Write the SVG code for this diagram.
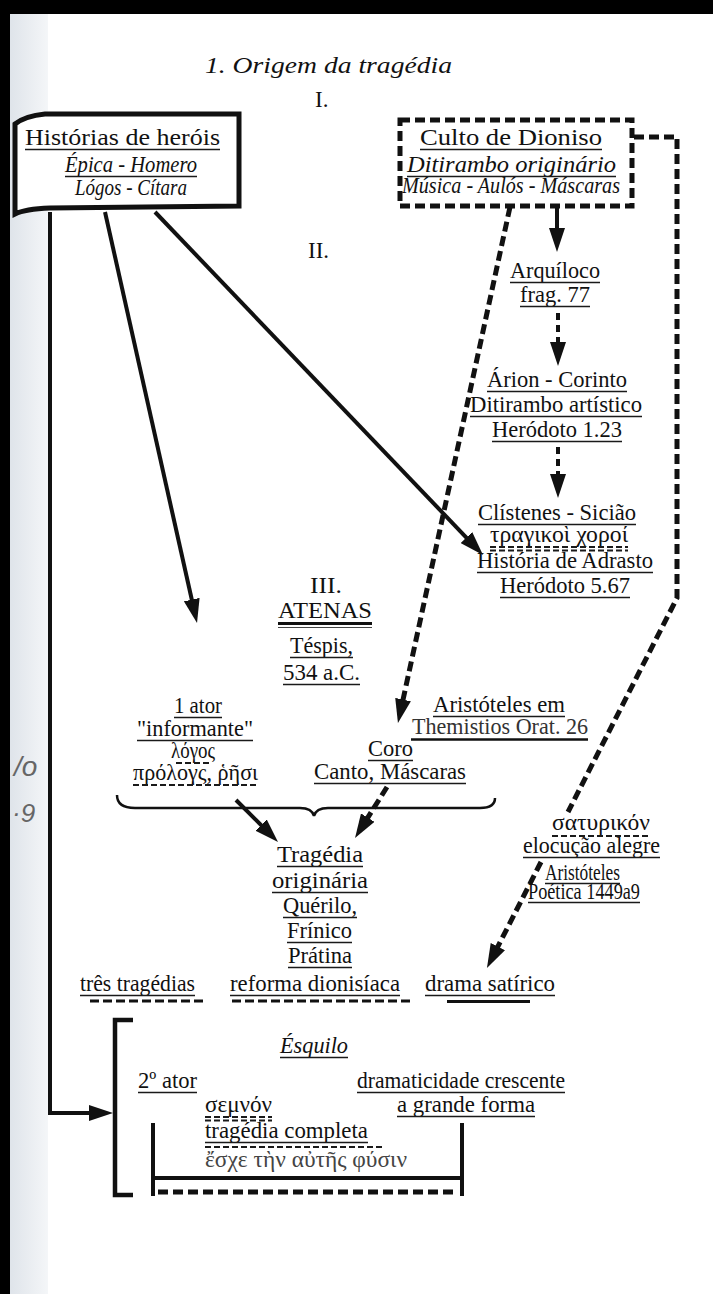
<svg xmlns="http://www.w3.org/2000/svg" width="713" height="1294" viewBox="0 0 713 1294">
<style>
.t{font-family:"Liberation Serif","Times New Roman",serif;font-size:23px;fill:#111}
.i{font-style:italic}
.g{fill:#333}
.u{stroke:#1a1a1a;stroke-width:1.3;fill:none}
.ud{stroke:#1a1a1a;stroke-width:2;fill:none;stroke-dasharray:6 3}
.ut{stroke:#111;stroke-width:3;fill:none;stroke-dasharray:9 4}
.c{fill:none;stroke:#111;stroke-width:4}
.d{fill:none;stroke:#111;stroke-width:5;stroke-dasharray:10 5}
.sd{fill:none;stroke:#111;stroke-width:4;stroke-dasharray:7 5}
.hw{font-family:"Liberation Sans",sans-serif;font-style:italic;fill:#666}
</style>
<defs>
<marker id="ah" viewBox="0 0 24 16" refX="12" refY="8" markerWidth="24" markerHeight="16" markerUnits="userSpaceOnUse" orient="auto"><path d="M0,0 L24,8 L0,16 z" fill="#111"/></marker>
<linearGradient id="edge" x1="0" x2="1" y1="0" y2="0"><stop offset="0" stop-color="#dfe4ea"/><stop offset="1" stop-color="#f4f6f8"/></linearGradient>
</defs>
<rect width="713" height="1294" fill="#fff"/>
<rect x="10" y="14" width="38" height="1280" fill="url(#edge)"/>
<rect x="0" y="0" width="713" height="14" fill="#000"/>
<rect x="0" y="0" width="10" height="1294" fill="#000"/>
<g id="margin-notes">
<text class="hw" x="14" y="776" font-size="28">/o</text>
<text class="hw" x="12" y="822" font-size="26">·9</text>
</g>
<g id="title">
<text class="t i" x="205" y="73" font-size="28" textLength="247" lengthAdjust="spacingAndGlyphs">1. Origem da tragédia</text>
<text class="t" x="315" y="107">I.</text>
<text class="t" x="308" y="258">II.</text>
</g>
<g id="connectors">
<path class="c" d="M50,212 L50,1113 L101,1113" marker-end="url(#ah)"/>
<path class="c" d="M105,212 L194.4,611.3" marker-end="url(#ah)"/>
<path class="c" d="M155,212 L474.7,546.3" marker-end="url(#ah)"/>
<path class="c" stroke-width="3.5" d="M557,207 L557,240" marker-end="url(#ah)"/>
<path class="sd" d="M558,313 L558,354" marker-end="url(#ah)"/>
<path class="sd" d="M558,447 L558,486" marker-end="url(#ah)"/>
<path class="d" d="M510,207 L400.5,711.3" marker-end="url(#ah)"/>
<path class="d" d="M634,137 L677,137 L677,598 L568,812"/>
<path class="d" d="M541,862 L492.4,957.3" marker-end="url(#ah)"/>
<path class="c" d="M236,800 L269.5,833.5" marker-end="url(#ah)"/>
<path class="d" d="M387,787 L361.4,827.8" marker-end="url(#ah)"/>
<path fill="none" stroke="#111" stroke-width="2.5" d="M117,795 Q117,808 135,808 L300,808 Q312,808 314,816 Q316,808 328,808 L480,808 Q495,808 495,798"/>
</g>
<g id="n-herois">
<path fill="#fff" stroke="#111" stroke-width="5" d="M15,124 Q25,116 45,114 L239,114 L239,206 L50,208 Q25,209 15,214 Z"/>
<text class="t" x="25" y="145" font-size="25" textLength="195" lengthAdjust="spacingAndGlyphs">Histórias de heróis</text>
<line class="u" x1="25" y1="149.5" x2="220" y2="149.5"/>
<text class="t i" x="65" y="172" textLength="132" lengthAdjust="spacingAndGlyphs">Épica - Homero</text>
<line class="u" x1="65" y1="176.5" x2="197" y2="176.5"/>
<text class="t i" x="75" y="195" font-size="20" textLength="112" lengthAdjust="spacingAndGlyphs">Lógos - Cítara</text>
</g>
<g id="n-dioniso">
<rect class="d" x="400" y="120" width="232" height="86" fill="#fff"/>
<text class="t" x="420" y="145" font-size="25" textLength="182" lengthAdjust="spacingAndGlyphs">Culto de Dioniso</text>
<line class="u" x1="420" y1="149.5" x2="602" y2="149.5"/>
<text class="t i" x="407" y="172" textLength="209" lengthAdjust="spacingAndGlyphs">Ditirambo originário</text>
<line class="u" x1="407" y1="176.5" x2="616" y2="176.5"/>
<text class="t i" x="402" y="193" font-size="20" textLength="218" lengthAdjust="spacingAndGlyphs">Música - Aulós - Máscaras</text>
</g>
<g id="n-arquiloco">
<text class="t" x="510" y="278" textLength="90" lengthAdjust="spacingAndGlyphs">Arquíloco</text>
<line class="u" x1="510" y1="282.5" x2="600" y2="282.5"/>
<text class="t" x="520" y="302" textLength="70" lengthAdjust="spacingAndGlyphs">frag. 77</text>
<line class="u" x1="520" y1="306.5" x2="590" y2="306.5"/>
</g>
<g id="n-arion">
<text class="t" x="487" y="387" textLength="140" lengthAdjust="spacingAndGlyphs">Árion - Corinto</text>
<line class="u" x1="487" y1="391.5" x2="627" y2="391.5"/>
<text class="t" x="470" y="412" textLength="172" lengthAdjust="spacingAndGlyphs">Ditirambo artístico</text>
<line class="u" x1="470" y1="416.5" x2="642" y2="416.5"/>
<text class="t" x="492" y="437" textLength="130" lengthAdjust="spacingAndGlyphs">Heródoto 1.23</text>
<line class="u" x1="492" y1="441.5" x2="622" y2="441.5"/>
</g>
<g id="n-clistenes">
<text class="t" x="478" y="520" textLength="158" lengthAdjust="spacingAndGlyphs">Clístenes - Sicião</text>
<line class="u" x1="478" y1="524.5" x2="636" y2="524.5"/>
<text class="t" x="490" y="542" font-size="22" textLength="138" lengthAdjust="spacingAndGlyphs">τραγικοὶ χοροί</text>
<line class="ud" x1="490" y1="547" x2="628" y2="547"/>
<line class="ud" stroke-width="1.2" x1="490" y1="550.5" x2="628" y2="550.5"/>
<text class="t" x="477" y="568" textLength="176" lengthAdjust="spacingAndGlyphs">História de Adrasto</text>
<line class="u" x1="477" y1="572.5" x2="653" y2="572.5"/>
<text class="t" x="500" y="593" textLength="130" lengthAdjust="spacingAndGlyphs">Heródoto 5.67</text>
<line class="u" x1="500" y1="597.5" x2="630" y2="597.5"/>
</g>
<g id="n-atenas">
<text class="t" x="310" y="593" textLength="32" lengthAdjust="spacingAndGlyphs">III.</text>
<text class="t" x="278" y="618" textLength="94" lengthAdjust="spacingAndGlyphs">ATENAS</text>
<line stroke="#111" stroke-width="3" x1="278" y1="623.5" x2="372" y2="623.5"/>
<line stroke="#444" stroke-width="1" x1="278" y1="627.5" x2="372" y2="627.5"/>
<text class="t" x="290" y="653" textLength="63" lengthAdjust="spacingAndGlyphs">Téspis,</text>
<line class="u" x1="290" y1="657.5" x2="353" y2="657.5"/>
<text class="t" x="283" y="680" textLength="77" lengthAdjust="spacingAndGlyphs">534 a.C.</text>
<line class="u" x1="283" y1="684.5" x2="360" y2="684.5"/>
</g>
<g id="n-themistios">
<text class="t" x="433" y="712" textLength="132" lengthAdjust="spacingAndGlyphs">Aristóteles em</text>
<line class="u" x1="433" y1="716.5" x2="565" y2="716.5"/>
<text class="t g" x="412" y="734" textLength="176" lengthAdjust="spacingAndGlyphs">Themistios Orat. 26</text>
<line stroke="#111" stroke-width="2.6" x1="411" y1="739.5" x2="588" y2="739.5"/>
</g>
<g id="n-coro">
<text class="t" x="368" y="756" textLength="45" lengthAdjust="spacingAndGlyphs">Coro</text>
<line class="u" x1="368" y1="760.5" x2="413" y2="760.5"/>
<text class="t" x="314" y="779" textLength="152" lengthAdjust="spacingAndGlyphs">Canto, Máscaras</text>
<line class="u" x1="314" y1="783.5" x2="466" y2="783.5"/>
</g>
<g id="n-ator">
<text class="t" x="174" y="713" font-size="22" textLength="48" lengthAdjust="spacingAndGlyphs">1 ator</text>
<line class="u" x1="174" y1="717.5" x2="222" y2="717.5"/>
<text class="t" x="137" y="736" font-size="22" textLength="116" lengthAdjust="spacingAndGlyphs">"informante"</text>
<line class="u" x1="137" y1="740.5" x2="253" y2="740.5"/>
<text class="t" x="171" y="758" font-size="22" textLength="44" lengthAdjust="spacingAndGlyphs">λόγος</text>
<line class="ud" x1="176" y1="763" x2="212" y2="763"/>
<text class="t" x="133" y="780" font-size="22" textLength="125" lengthAdjust="spacingAndGlyphs">πρόλογς, ῥῆσι</text>
<line class="ud" x1="133" y1="785" x2="258" y2="785"/>
</g>
<g id="n-tragedia">
<text class="t" x="277" y="862" textLength="86" lengthAdjust="spacingAndGlyphs">Tragédia</text>
<line class="u" x1="277" y1="866.5" x2="363" y2="866.5"/>
<text class="t" x="272" y="888" textLength="96" lengthAdjust="spacingAndGlyphs">originária</text>
<line class="u" x1="272" y1="892.5" x2="368" y2="892.5"/>
<text class="t" x="283" y="913" textLength="74" lengthAdjust="spacingAndGlyphs">Quérilo,</text>
<line class="u" x1="283" y1="917.5" x2="357" y2="917.5"/>
<text class="t" x="287" y="938" textLength="65" lengthAdjust="spacingAndGlyphs">Frínico</text>
<line class="u" x1="287" y1="942.5" x2="352" y2="942.5"/>
<text class="t" x="288" y="963" textLength="64" lengthAdjust="spacingAndGlyphs">Prátina</text>
<line class="u" x1="288" y1="967.5" x2="352" y2="967.5"/>
</g>
<g id="n-satirikon">
<text class="t" x="552" y="830" textLength="98" lengthAdjust="spacingAndGlyphs">σατυρικόν</text>
<line class="ud" x1="552" y1="836" x2="650" y2="836"/>
<text class="t" x="523" y="853" textLength="137" lengthAdjust="spacingAndGlyphs">elocução alegre</text>
<line class="u" x1="523" y1="857.5" x2="660" y2="857.5"/>
<text class="t" x="545" y="880" font-size="16" textLength="75" lengthAdjust="spacingAndGlyphs">Aristóteles</text>
<line class="u" x1="545" y1="883.5" x2="620" y2="883.5"/>
<text class="t" x="528" y="899" font-size="16" textLength="112" lengthAdjust="spacingAndGlyphs">Poética 1449a9</text>
<line class="u" x1="528" y1="902.5" x2="640" y2="902.5"/>
</g>
<g id="n-tres">
<text class="t" x="80" y="991" textLength="115" lengthAdjust="spacingAndGlyphs">três tragédias</text>
<line class="u" x1="80" y1="995.5" x2="195" y2="995.5"/>
<line class="ut" x1="90" y1="1001" x2="203" y2="1001"/>
</g>
<g id="n-reforma">
<text class="t" x="230" y="991" textLength="170" lengthAdjust="spacingAndGlyphs">reforma dionisíaca</text>
<line class="u" x1="230" y1="995.5" x2="400" y2="995.5"/>
<line class="ut" x1="232" y1="1001" x2="412" y2="1001"/>
</g>
<g id="n-drama">
<text class="t" x="425" y="991" textLength="130" lengthAdjust="spacingAndGlyphs">drama satírico</text>
<line class="u" x1="425" y1="995.5" x2="555" y2="995.5"/>
<line stroke="#111" stroke-width="3" x1="447" y1="1001.5" x2="530" y2="1001.5"/>
</g>
<g id="n-esquilo">
<path fill="none" stroke="#111" stroke-width="4.5" d="M133,1020 L115,1020 L115,1195 L133,1195"/>
<text class="t i" x="280" y="1053" textLength="68" lengthAdjust="spacingAndGlyphs">Ésquilo</text>
<line class="u" x1="280" y1="1057.5" x2="348" y2="1057.5"/>
<text class="t" x="138" y="1088" textLength="59" lengthAdjust="spacingAndGlyphs">2º ator</text>
<line class="u" x1="138" y1="1092.5" x2="197" y2="1092.5"/>
<text class="t" x="357" y="1088" textLength="208" lengthAdjust="spacingAndGlyphs">dramaticidade crescente</text>
<line class="u" x1="357" y1="1092.5" x2="565" y2="1092.5"/>
<text class="t" x="205" y="1112" textLength="67" lengthAdjust="spacingAndGlyphs">σεμνόν</text>
<line class="ud" x1="205" y1="1117" x2="272" y2="1117"/>
<line class="ud" stroke-width="1.2" x1="205" y1="1120.5" x2="272" y2="1120.5"/>
<text class="t" x="397" y="1112" textLength="138" lengthAdjust="spacingAndGlyphs">a grande forma</text>
<line class="u" x1="397" y1="1116.5" x2="535" y2="1116.5"/>
<path fill="none" stroke="#111" stroke-width="4" d="M153,1123 L153,1196 M462,1123 L462,1196 M153,1178 L462,1178"/>
<line class="d" x1="158" y1="1192" x2="458" y2="1192"/>
<text class="t" x="205" y="1138" textLength="163" lengthAdjust="spacingAndGlyphs">tragédia completa</text>
<line class="u" x1="205" y1="1142.5" x2="368" y2="1142.5"/>
<line class="ud" x1="205" y1="1147" x2="383" y2="1147"/>
<text class="t" x="205" y="1167" font-size="20" style="fill:#444" textLength="202" lengthAdjust="spacingAndGlyphs">ἔσχε τὴν αὐτῆς φύσιν</text>
</g>
</svg>
